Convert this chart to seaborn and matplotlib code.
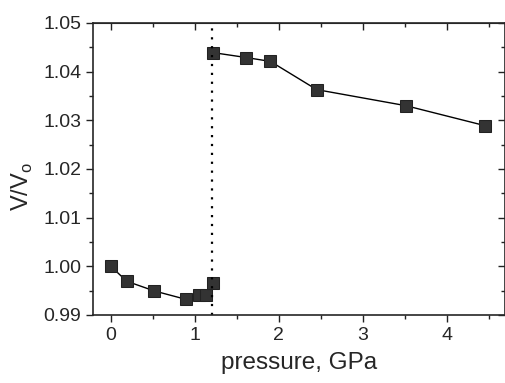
import numpy as np
import pandas as pd
import seaborn as sns
import matplotlib.pyplot as plt
from matplotlib.ticker import MultipleLocator

# low-pressure phase
p_low = [0.0, 0.19, 0.52, 0.89, 1.05, 1.13, 1.22]
v_low = [1.0000, 0.9969, 0.9949, 0.9932, 0.9940, 0.9941, 0.9965]
# high-pressure phase
p_high = [1.22, 1.61, 1.90, 2.45, 3.51, 4.45]
v_high = [1.0439, 1.0429, 1.0421, 1.0363, 1.0330, 1.0289]
transition = 1.21

df = pd.concat([
    pd.DataFrame({"p": p_low, "v": v_low, "phase": "low"}),
    pd.DataFrame({"p": p_high, "v": v_high, "phase": "high"}),
])

sns.set_style("ticks")
plt.rcParams['font.family'] = ['Liberation Sans', 'DejaVu Sans']

fig = plt.figure(figsize=(5.06, 3.83), dpi=100)
ax = fig.add_axes([0.184, 0.178, 0.814, 0.762])

sns.lineplot(data=df, x="p", y="v", units="phase", estimator=None, sort=False,
             color="black", lw=1, marker="s", markersize=9,
             markerfacecolor="#333333", markeredgecolor="#222222", ax=ax)
ax.axvline(transition, color="black", ls=(0, (1, 3)), lw=1.6)

ax.set_xlim(-0.21, 4.69)
ax.set_ylim(0.99, 1.05)
ax.xaxis.set_major_locator(MultipleLocator(1))
ax.xaxis.set_minor_locator(MultipleLocator(0.5))
ax.yaxis.set_major_locator(MultipleLocator(0.01))
ax.yaxis.set_minor_locator(MultipleLocator(0.005))
ax.yaxis.set_major_formatter(plt.FormatStrFormatter("%.2f"))
ax.tick_params(which="both", direction="out", labelsize=14, width=1, color="#222222")
ax.tick_params(which="major", length=5)
ax.tick_params(which="minor", length=3)
for spine in ax.spines.values():
    spine.set_visible(True)
    spine.set_linewidth(1.2)

# inward ticks on top and right, like the original
top = ax.secondary_xaxis("top")
right = ax.secondary_yaxis("right")
for sec, loc in ((top, "x"), (right, "y")):
    axis = sec.xaxis if loc == "x" else sec.yaxis
    axis.set_major_locator(MultipleLocator(1 if loc == "x" else 0.01))
    axis.set_minor_locator(MultipleLocator(0.5 if loc == "x" else 0.005))
    sec.tick_params(which="both", direction="in", labelsize=0, width=1,
                    labeltop=False, labelright=False, color="#222222")
    sec.tick_params(which="major", length=5)
    sec.tick_params(which="minor", length=3)

ax.set_xlabel("pressure, GPa", fontsize=17.5, labelpad=6)
ax.set_ylabel("V/V$_\\mathregular{o}$", fontsize=17)
ax.yaxis.set_label_coords(-0.142, 0.44)

fig.savefig("out.png", dpi=100)
